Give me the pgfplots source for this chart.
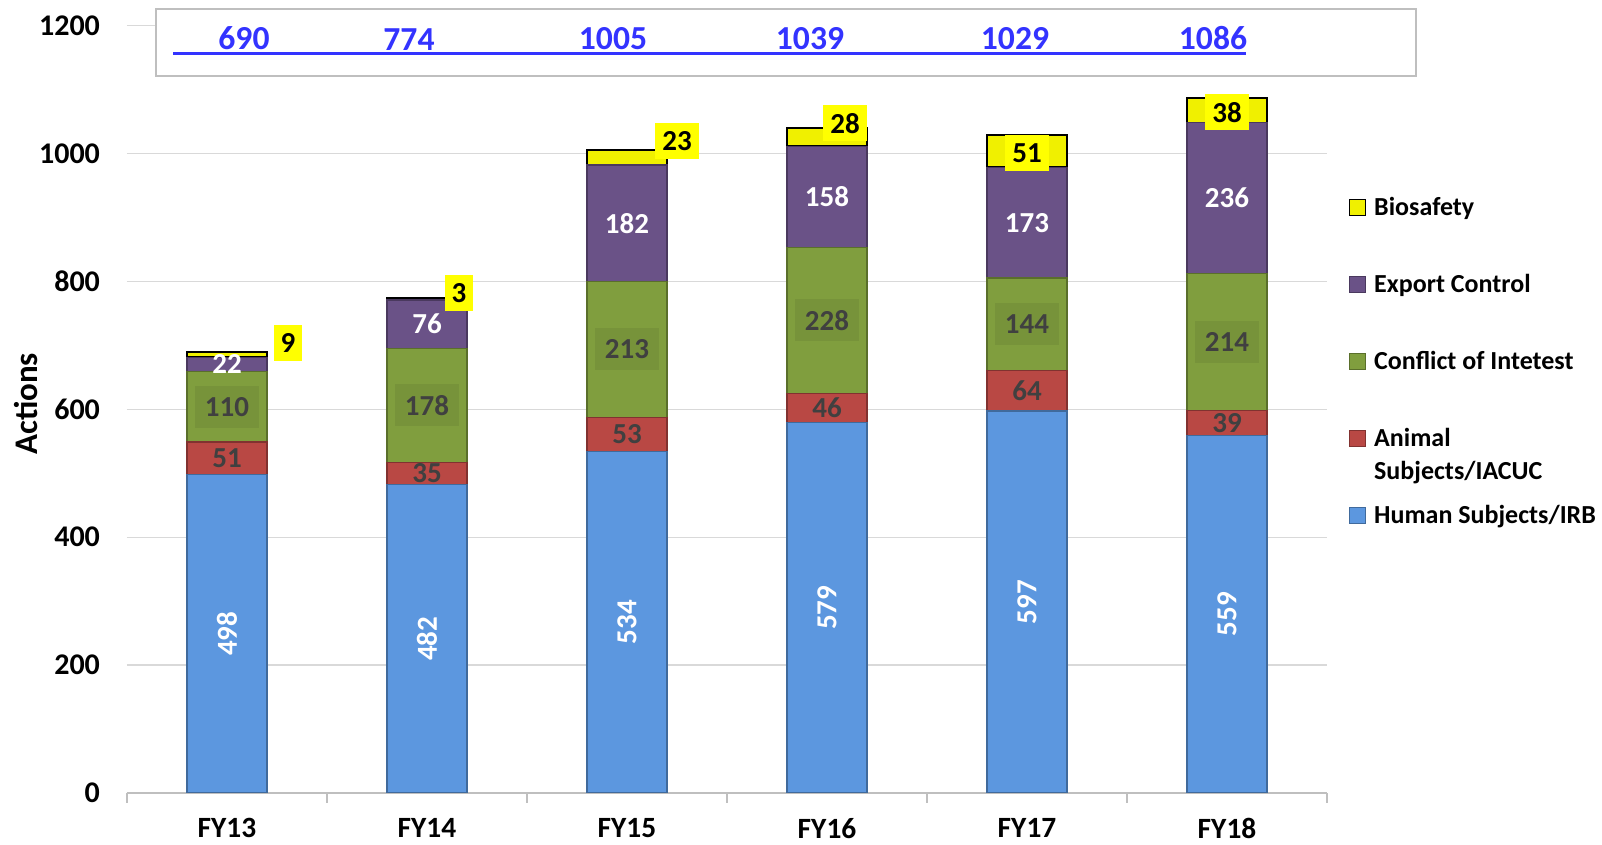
\documentclass[border=0pt]{standalone}
\usepackage{pgfplots}
\pgfplotsset{compat=1.18}
\usepackage{fontspec}
\setmainfont{Carlito}
\definecolor{human}{HTML}{5C97DF}
\definecolor{animal}{HTML}{B94844}
\definecolor{conflict}{HTML}{809E3E}
\definecolor{export}{HTML}{6A5287}
\definecolor{bio}{HTML}{F0F000}
\definecolor{labelyellow}{HTML}{FFFF00}
\definecolor{totblue}{HTML}{3333FF}
\definecolor{lblgray}{HTML}{404040}
\definecolor{gridgray}{HTML}{D9D9D9}
\definecolor{axgray}{HTML}{BFBFBF}
\pgfplotsset{
  common/.style={
    scale only axis, width=600pt, height=383.75pt,
    xmin=-0.5, xmax=5.5, ymin=0, ymax=1200,
    at={(0pt,0pt)}, anchor=south west,
  },
  seglabel/.style={draw=none, nodes near coords, point meta=explicit symbolic,
    nodes near coords align={center}},
}
\begin{document}
\begin{tikzpicture}
\path[use as bounding box] (-63.5pt,-26pt) rectangle (737.5pt,396.5pt);
\begin{axis}[common,
  ybar stacked, bar width=40pt,
  axis lines*=left,
  axis line style={-},
  y axis line style={draw=none},
  x axis line style={draw=axgray, line width=0.8pt},
  ymajorgrids, grid style={gridgray, line width=0.6pt},
  major tick length=0pt,
  tick style={axgray, line width=0.8pt},
  ytick={0,200,...,1200},
  scaled y ticks=false,
  yticklabel style={font=\fontsize{15}{17}\selectfont\bfseries,
    /pgf/number format/1000 sep={}, /pgf/number format/assume math mode=true,
    xshift=-10pt},
  xtick={0,...,5}, xticklabels={FY13,FY14,FY15,FY16,FY17,FY18},
  xticklabel style={font=\fontsize{14.7}{16}\selectfont\bfseries, yshift=-9.3pt},
  extra x ticks={-0.5,0.5,...,5.5}, extra x tick labels={},
  extra x tick style={major tick length=5pt, tick align=outside},
  ylabel={Actions},
  ylabel style={font=\fontsize{16.5}{18}\selectfont\bfseries,
    at={(axis description cs:-0.0842,0.507)}, anchor=center},
  reverse legend,
  legend style={at={(1.01833,0.7772)}, anchor=north west, draw=none, fill=none,
    inner sep=0pt, outer sep=0pt, row sep=0pt, column sep=4pt,
    font=\fontsize{13}{16.3}\selectfont\bfseries,
    cells={anchor=base west}, nodes={inner sep=0pt}},
  legend image code/.code={\draw[#1,/tikz/.cd,line width=0.6pt] (0pt,0pt) rectangle (8pt,8pt);},
]
\addplot[fill=human, draw=human!70!black, line width=0.7pt]
  coordinates {(0,498) (1,482) (2,534) (3,579) (4,597) (5,559)};
\addlegendentry[text height=9.5pt, text depth=3pt]{Human Subjects/IRB}
\addplot[fill=animal, draw=animal!70!black, line width=0.7pt]
  coordinates {(0,51) (1,35) (2,53) (3,46) (4,64) (5,39)};
\addlegendentry[text height=9.5pt, text depth=29pt]{\vtop{\hbox{Animal}\hbox{Subjects/IACUC}}}
\addplot[fill=conflict, draw=conflict!70!black, line width=0.7pt]
  coordinates {(0,110) (1,178) (2,213) (3,228) (4,144) (5,214)};
\addlegendentry[text height=9.5pt, text depth=29pt]{Conflict of Intetest}
\addplot[fill=export, draw=export!70!black, line width=0.7pt]
  coordinates {(0,22) (1,76) (2,182) (3,158) (4,173) (5,236)};
\addlegendentry[text height=9.5pt, text depth=29pt]{Export Control}
\addplot[fill=bio, draw=black, line width=1pt]
  coordinates {(0,9) (1,3) (2,23) (3,28) (4,51) (5,38)};
\addlegendentry[text height=9.5pt, text depth=29pt]{Biosafety}
\end{axis}
\begin{axis}[common, hide axis, clip=false]
\draw[axgray, line width=1pt, fill=white] (axis cs:-0.355,1226.3) rectangle (axis cs:5.945,1121);
\addplot[totblue, line width=1.5pt] coordinates {(-0.27,1156) (5.095,1156)};
\addplot[draw=none, nodes near coords, point meta=explicit symbolic,
  nodes near coords align={vertical},
  nodes near coords style={font=\fontsize{16.8}{18}\selectfont\bfseries, text=totblue, inner sep=0pt, yshift=1.5pt}]
  coordinates {(0.085,1156)[690] (0.91,1156)[774] (1.93,1156)[1005] (2.915,1156)[1039] (3.94,1156)[1029] (4.93,1156)[1086]};
% Human labels
\addplot[seglabel, nodes near coords style={font=\fontsize{14.5}{16}\selectfont\bfseries, text=white, rotate=90}]
  coordinates {(0,249)[498] (1,241)[482] (2,267)[534] (3,289.5)[579] (4,298.5)[597] (5,279.5)[559]};
% Animal labels
\addplot[seglabel, nodes near coords style={font=\fontsize{14.5}{16}\selectfont\bfseries, text=lblgray}]
  coordinates {(0,523.5)[51] (1,499.5)[35] (2,560.5)[53] (3,602)[46] (4,629)[64] (5,578.5)[39]};
% Conflict labels
\addplot[seglabel, nodes near coords style={font=\fontsize{14.5}{16}\selectfont\bfseries, text=lblgray, fill=conflict!93!black, inner xsep=5pt, minimum height=21pt}]
  coordinates {(0,604)[110] (1,606)[178] (2,693.5)[213] (3,739)[228] (4,733)[144] (5,705)[214]};
% Export labels
\addplot[seglabel, nodes near coords style={font=\fontsize{14.5}{16}\selectfont\bfseries, text=white}]
  coordinates {(0,670)[22] (1,733)[76] (2,891)[182] (3,932)[158] (4,891.5)[173] (5,930)[236]};
% Biosafety labels
\addplot[seglabel, nodes near coords style={font=\fontsize{14.5}{16}\selectfont\bfseries, text=black, fill=labelyellow, inner xsep=3.5pt, minimum height=18pt}]
  coordinates {(0.305,703)[9] (1.16,781)[3] (2.25,1020)[23] (3.09,1047)[28] (4.0,1001)[51] (5.0,1064)[38]};
\end{axis}
\end{tikzpicture}
\end{document}
